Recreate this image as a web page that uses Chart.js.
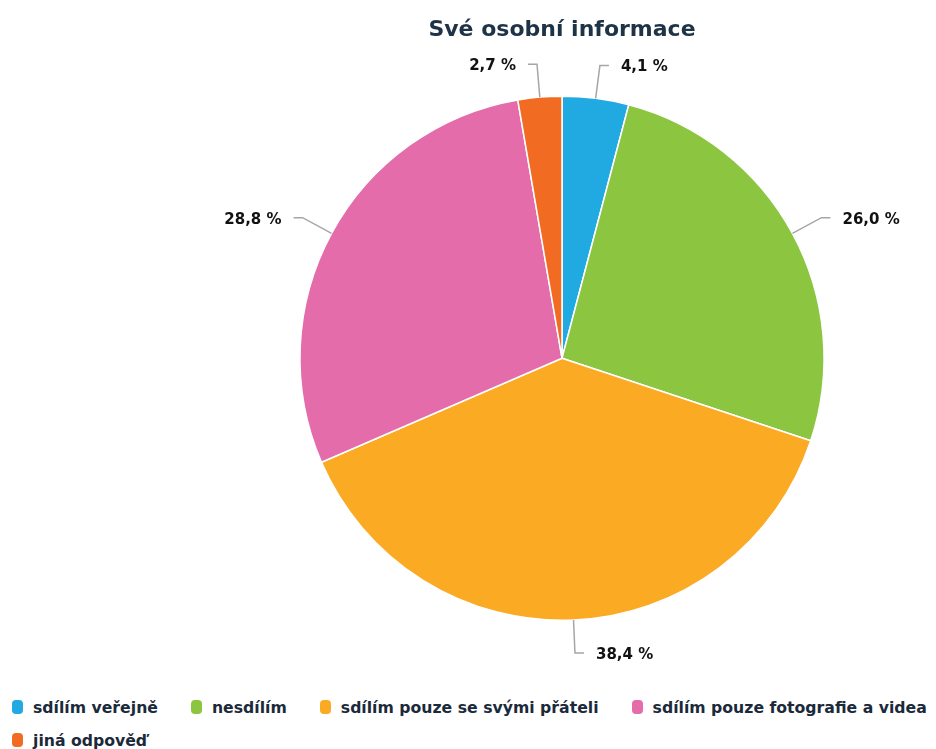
<!DOCTYPE html>
<html>
<head>
<meta charset="utf-8">
<script src="https://cdn.jsdelivr.net/npm/chart.js@4.4.1/dist/chart.umd.min.js"></script>
<style>
  body { margin: 0; background: #fff; }
  #wrap { position: relative; width: 936px; height: 749px; }
  #legend {
    position: absolute; left: 12px; top: 698px; width: 924px;
    display: flex; flex-wrap: wrap; row-gap: 15px; column-gap: 33px;
    font: bold 15.7px "DejaVu Sans", sans-serif; color: #1b2a3a;
  }
  .item { display: flex; align-items: center; height: 18px; white-space: nowrap; }
  .box { width: 11px; height: 14px; border-radius: 4px; margin-right: 10px; }
</style>
</head>
<body>
<div id="wrap">
  <canvas id="pieChart" width="936" height="680"></canvas>
  <div id="legend"></div>
</div>
<script>
const title = "Své osobní informace";
const labels = ["sdílím veřejně", "nesdílím", "sdílím pouze se svými přáteli", "sdílím pouze fotografie a videa", "jiná odpověď"];
const values = [4.1, 26.0, 38.4, 28.8, 2.7];
const colors = ["#21a9e1", "#8cc540", "#fbaa23", "#e46caa", "#f26b22"];

// leader lines + percent labels outside the pie
const outsideLabels = {
  id: "outsideLabels",
  afterDatasetsDraw(chart) {
    const ctx = chart.ctx;
    const arcs = chart.getDatasetMeta(0).data;
    ctx.save();
    arcs.forEach((arc, i) => {
      const mid = (arc.startAngle + arc.endAngle) / 2;
      const r = arc.outerRadius;
      const cos = Math.cos(mid), sin = Math.sin(mid);
      const x0 = arc.x + cos * r, y0 = arc.y + sin * r;
      const x1 = arc.x + cos * (r + 33), y1 = arc.y + sin * (r + 33);
      const dir = cos >= 0 ? 1 : -1;
      const x2 = x1 + dir * 9;
      ctx.strokeStyle = "#a6a6a6";
      ctx.lineWidth = 1.5;
      ctx.beginPath();
      ctx.moveTo(x0, y0);
      ctx.lineTo(x1, y1);
      ctx.lineTo(x2, y1);
      ctx.stroke();
      ctx.fillStyle = "#111";
      ctx.font = "bold 15px 'DejaVu Sans'";
      ctx.textBaseline = "middle";
      ctx.textAlign = dir > 0 ? "left" : "right";
      ctx.fillText(values[i].toFixed(1).replace(".", ",") + " %", x2 + dir * 12, y1 + 2);
    });
    ctx.restore();
  }
};

new Chart(document.getElementById("pieChart"), {
  type: "pie",
  data: {
    labels: labels,
    datasets: [{
      data: values,
      backgroundColor: colors,
      borderColor: "#ffffff",
      borderWidth: 1.5,
      hoverOffset: 0
    }]
  },
  options: {
    responsive: false,
    animation: false,
    layout: { padding: { left: 188, right: 0, top: 2, bottom: 59 } },
    plugins: {
      title: {
        display: true,
        text: title,
        color: "#1f3347",
        font: { size: 22, weight: "bold", family: "'DejaVu Sans'" },
        padding: { top: 15, bottom: 52 }
      },
      legend: { display: false },
      tooltip: { enabled: false }
    }
  },
  plugins: [outsideLabels]
});

// html legend
const legend = document.getElementById("legend");
labels.forEach((l, i) => {
  const item = document.createElement("div");
  item.className = "item";
  item.innerHTML = '<span class="box" style="background:' + colors[i] + '"></span>' + l;
  legend.appendChild(item);
});
</script>
</body>
</html>
